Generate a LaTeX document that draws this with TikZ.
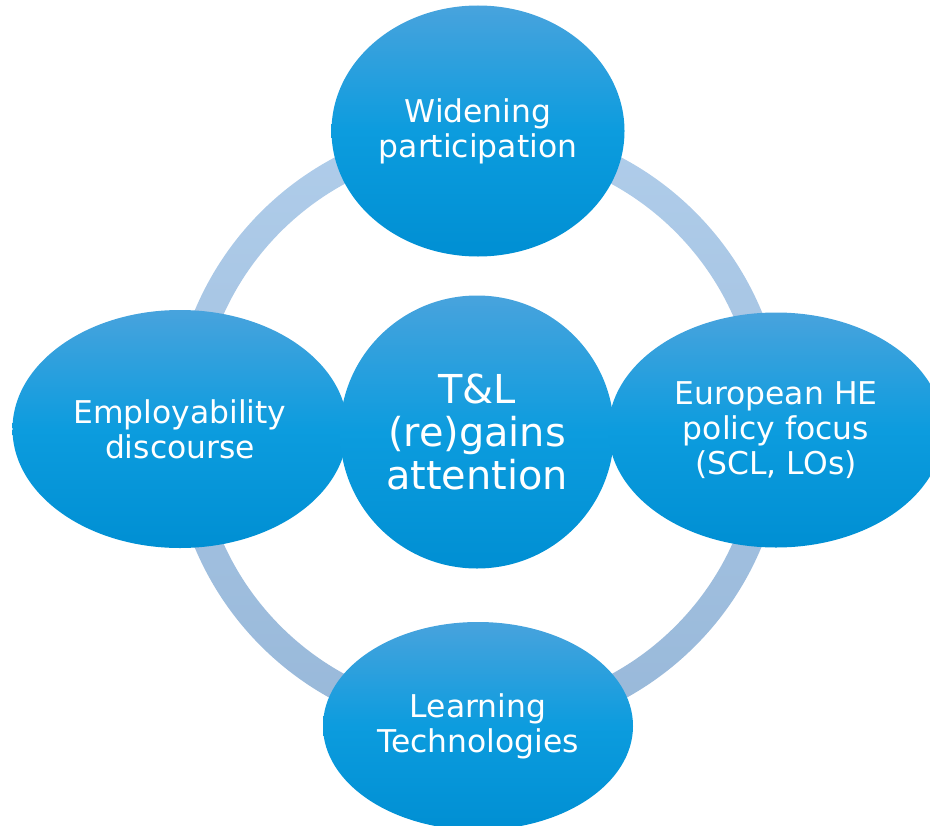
\documentclass[tikz,border=0pt]{standalone}
\usepackage{fontspec}
\setmainfont{DejaVu Sans}
\usetikzlibrary{shapes}
\definecolor{bubbletop}{RGB}{72,163,221}
\definecolor{bubblemid}{RGB}{12,156,222}
\definecolor{bubblebot}{RGB}{0,143,211}
\definecolor{ringtop}{RGB}{176,205,234}
\definecolor{ringbot}{RGB}{152,184,217}
\tikzstyle{bubble}=[ellipse,inner sep=0pt,top color=bubbletop,bottom color=bubblebot,middle color=bubblemid,text=white,align=center,font=\fontsize{31.5}{35}\selectfont]
\tikzstyle{hub}=[bubble,font=\fontsize{40}{43.5}\selectfont]

\begin{document}
\begin{tikzpicture}[x=1bp, y=-1bp]

    \clip (0,0) rectangle (930,826);

    % First the ring behind the bubbles
    \coordinate (c) at (478,429);
    \shade[top color=ringtop, bottom color=ringbot, even odd rule] (c) circle (307) (c) circle (279);

    % Then the bubbles, left one below the hub, right one above it
    \node[bubble, minimum width=293bp, minimum height=251bp] (wide) at (478,131) {Widening\\participation};
    \node[bubble, minimum width=335bp, minimum height=238bp] (employ) at (180,429) {Employability\\discourse};
    \node[hub, minimum width=274bp, minimum height=273bp] (tl) at (477,432) {T\&L\\(re)gains\\attention};
    \node[bubble, minimum width=335bp, minimum height=235bp] (policy) at (776,430) {European HE\\policy focus\\(SCL, LOs)};
    \node[bubble, minimum width=310bp, minimum height=208bp] (learn) at (478,726) {Learning\\Technologies};

\end{tikzpicture}
\end{document}
